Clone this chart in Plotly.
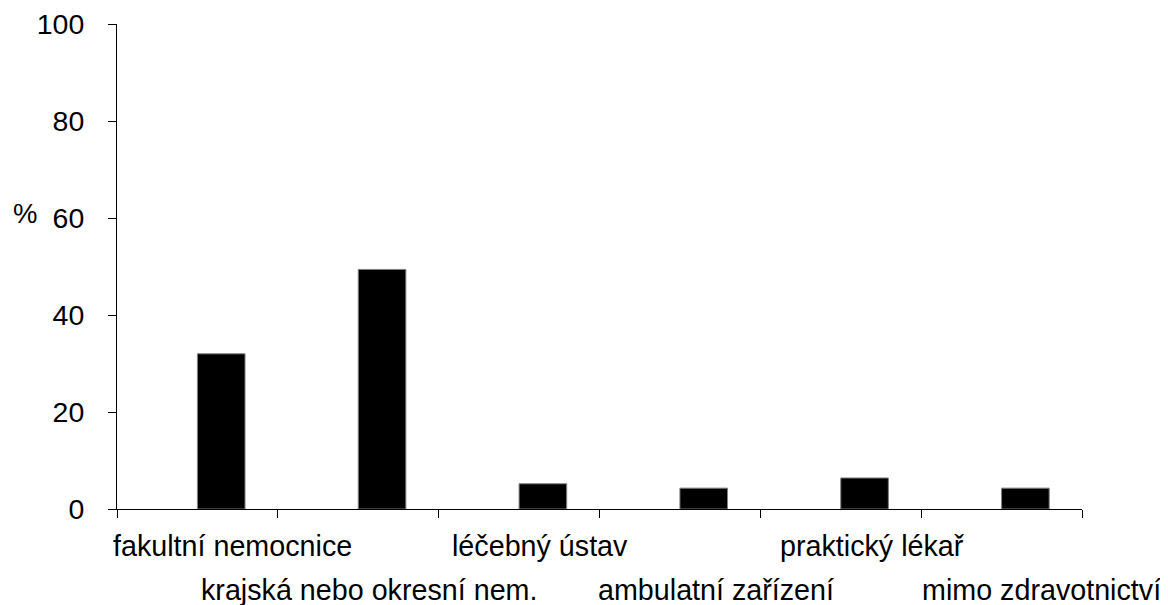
import plotly.graph_objects as go

categories = ["fakultní nemocnice", "krajská nebo okresní nem.", "léčebný ústav",
              "ambulatní zařízení", "praktický lékař", "mimo zdravotnictví"]
values = [32.0, 49.4, 5.2, 4.3, 6.4, 4.3]
y_ticks = [0, 20, 40, 60, 80, 100]

# layout tweaks for the staggered category labels (category units / paper units)
label_shift = [0.217, 0.066, 0.13, 0.224, 0.195, 0.247]
label_rows = [-0.0753, -0.168]

FONT = "Liberation Sans, Arial, sans-serif"
idx = list(range(len(categories)))

fig = go.Figure()
fig.add_trace(go.Bar(
    x=idx, y=values, width=0.296, offset=0,
    marker=dict(color="black", line=dict(color="#808080", width=1)),
    hovertext=categories, hoverinfo="text+y",
))

for i, cat in enumerate(categories):
    fig.add_annotation(
        x=i + label_shift[i], xref="x",
        y=label_rows[i % 2], yref="paper",
        text=cat, showarrow=False, xanchor="center", yanchor="middle",
        font=dict(family=FONT, size=28.7, color="black"),
    )

fig.add_annotation(
    x=-0.0957, xref="paper", y=0.61, yref="paper", text="%",
    showarrow=False, xanchor="center", yanchor="middle",
    font=dict(family=FONT, size=27.5, color="black"),
)

# the page body adds an 8px offset, so the figure is sized/margined to compensate
fig.update_layout(
    width=1160, height=597,
    margin=dict(l=109, r=86, t=16, b=96, autoexpand=False),
    plot_bgcolor="white", paper_bgcolor="white",
    showlegend=False,
    font=dict(family=FONT, size=28, color="black"),
    xaxis=dict(
        range=[-0.5, len(categories) - 0.5],
        tickmode="array",
        tickvals=[i - 0.5 for i in range(len(categories) + 1)],
        ticktext=[""] * (len(categories) + 1),
        ticks="outside", ticklen=8, tickcolor="black", tickwidth=1,
        showline=True, linecolor="black", linewidth=1,
        showgrid=False, zeroline=False, fixedrange=True, automargin=False,
    ),
    yaxis=dict(
        range=[0, 100],
        tickmode="array", tickvals=y_ticks, ticktext=[str(v) for v in y_ticks],
        ticks="outside", ticklen=8, tickcolor="black", tickwidth=1,
        ticklabelstandoff=18, ticklabeloverflow="allow",
        showline=True, linecolor="black", linewidth=1,
        showgrid=False, zeroline=False, fixedrange=True, automargin=False,
        tickfont=dict(family=FONT, size=28.5, color="black"),
    ),
)

fig.write_html("out.html")
